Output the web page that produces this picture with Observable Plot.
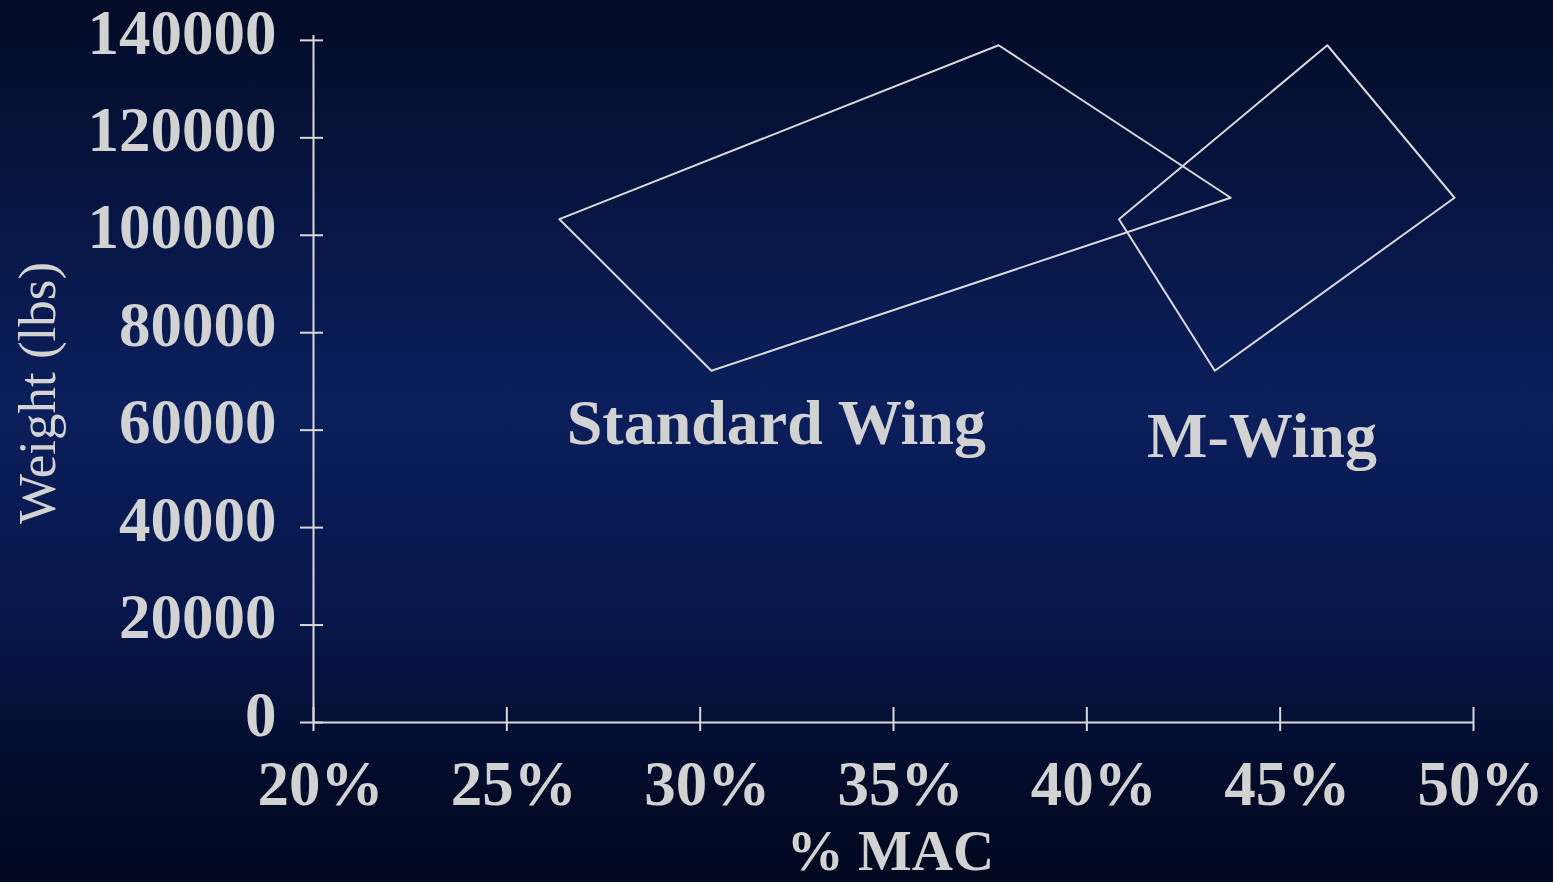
<!DOCTYPE html>
<html>
<head>
<meta charset="utf-8">
<script src="https://cdn.jsdelivr.net/npm/d3@7"></script>
<script src="https://cdn.jsdelivr.net/npm/@observablehq/plot@0.6"></script>
<style>
  html, body {
    margin: 0;
    padding: 0;
    width: 1553px;
    height: 882px;
    overflow: hidden;
    background: linear-gradient(to bottom, #030b26 0%, #071645 25%, #0b1f5c 46%, #07164a 70%, #030b28 90%, #020920 100%);
  }
  #chart svg { display: block; }
</style>
</head>
<body>
<div id="chart"></div>
<script>
// Centre-of-gravity envelopes: % MAC vs. weight (lbs)
const series = ["Standard Wing", "M-Wing"];
const macStandard = [26.36, 37.72, 43.72, 30.29];
const weightStandard = [103300, 139000, 107700, 72200];
const macMWing = [40.83, 46.22, 49.51, 43.31];
const weightMWing = [103300, 139000, 107700, 72200];

// Where each envelope's name sits (data coordinates)
const labelMac = [31.97, 44.53];
const labelWeight = [57100, 54400];

// Axis ticks
const xTicks = [20, 25, 30, 35, 40, 45, 50];
const yTicks = [0, 20000, 40000, 60000, 80000, 100000, 120000, 140000];

const envelope = [
  ...macStandard.map((m, i) => ({series: series[0], mac: m, weight: weightStandard[i]})),
  ...macMWing.map((m, i) => ({series: series[1], mac: m, weight: weightMWing[i]}))
];

const ink = "#d9d9d9";
const textInk = "#d2d2d2";
const serif = "'Liberation Serif', 'Times New Roman', Times, serif";

const chart = Plot.plot({
  width: 1553,
  height: 882,
  marginTop: 35,
  marginBottom: 160,
  marginLeft: 313,
  marginRight: 80,
  style: {
    background: "transparent",
    color: textInk,
    fontFamily: serif,
    fontSize: "63px",
    fontWeight: "bold",
    overflow: "visible"
  },
  x: {domain: [20, 50]},
  y: {domain: [0, 141000]},
  marks: [
    // axis lines
    Plot.ruleX([20], {stroke: ink, strokeWidth: 2}),
    Plot.ruleY([0], {stroke: ink, strokeWidth: 2}),
    // tick marks crossing the axis lines
    Plot.axisY({ticks: yTicks, tickSize: 23, dx: 10, stroke: ink, strokeWidth: 2, fill: "none", label: null}),
    Plot.axisX({ticks: xTicks, tickSize: 24, dy: -15, stroke: ink, strokeWidth: 2, fill: "none", label: null}),
    // tick labels
    Plot.axisY({ticks: yTicks, tickSize: 0, tickPadding: 37, dy: -7, tickFormat: d => String(d), fill: textInk, fontSize: 63, fontWeight: "bold", label: null}),
    Plot.axisX({ticks: xTicks, tickSize: 0, tickPadding: 38, dx: 7, tickFormat: d => d + "%", fill: textInk, fontSize: 63, fontWeight: "bold", label: null}),
    // axis titles
    Plot.text(["Weight (lbs)"], {frameAnchor: "left", textAnchor: "middle", rotate: -90, dx: -275, dy: 14, fill: textInk, fontSize: 53, fontWeight: "normal"}),
    Plot.text(["% MAC"], {frameAnchor: "bottom", textAnchor: "middle", lineAnchor: "bottom", dx: -3, dy: 147, fill: textInk, fontSize: 57, fontWeight: "bold"}),
    // envelopes
    Plot.line(envelope, {x: "mac", y: "weight", z: "series", curve: "linear-closed", stroke: ink, strokeWidth: 2}),
    // envelope names
    Plot.text(series, {x: labelMac, y: labelWeight, lineAnchor: "bottom", fill: textInk, fontSize: 64, fontWeight: "bold"})
  ]
});

document.getElementById("chart").appendChild(chart);
</script>
</body>
</html>
